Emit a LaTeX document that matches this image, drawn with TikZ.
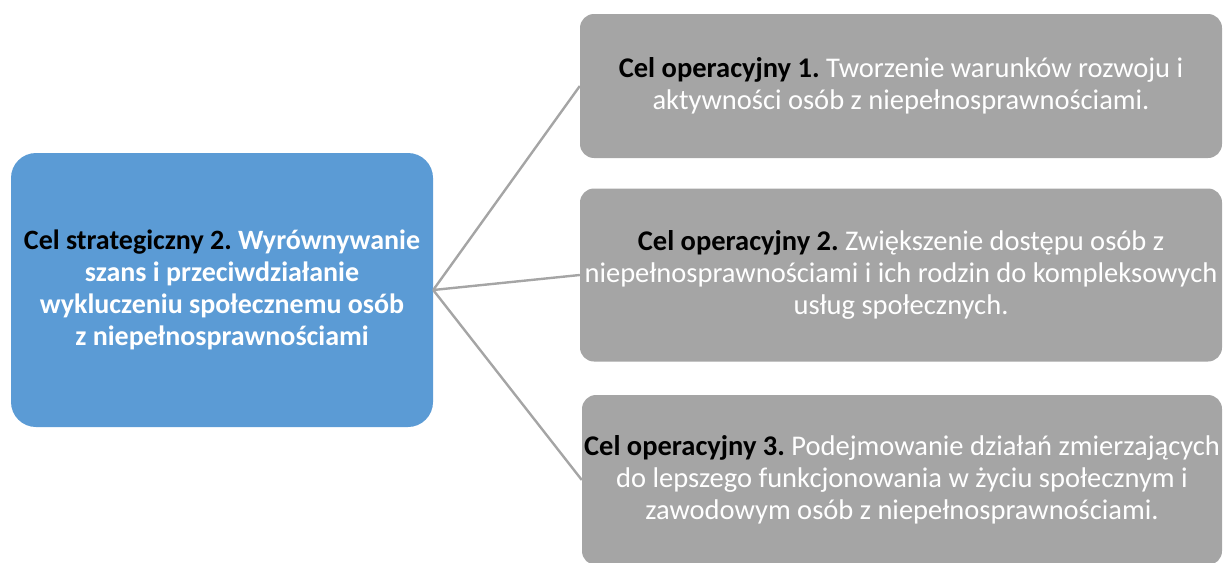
\documentclass[tikz,border=0pt]{standalone}
\usepackage{fontspec}
\setmainfont{Carlito}
\frenchspacing
\usetikzlibrary{positioning}
\definecolor{strategycolor}{RGB}{91,155,213}
\definecolor{operationcolor}{RGB}{165,165,165}
\definecolor{linkcolor}{RGB}{165,165,165}

\begin{document}
\begin{tikzpicture}[
    x=1pt, y=-1pt,
    strategy/.style={rectangle, rounded corners=25pt, fill=strategycolor, text=white, font=\fontsize{28}{32}\selectfont\bfseries, align=center, minimum width=422pt, minimum height=274pt, inner sep=0pt},
    operation/.style={rectangle, rounded corners=14pt, fill=operationcolor, text=white, font=\fontsize{28.5}{32}\selectfont, align=center, minimum width=642pt, minimum height=144pt, inner sep=0pt},
    link/.style={draw=linkcolor, line width=2.4pt}
]
\useasboundingbox (0,0) rectangle (1223,562);

% Strategic goal
\node[strategy] (strat) at (222,290) {\textcolor{black}{Cel strategiczny 2.} Wyrównywanie\\szans i przeciwdziałanie\\wykluczeniu społecznemu osób\\z niepełnosprawnościami};

% Operational goals
\node[operation] (op1) at (901,86) {\textcolor{black}{\bfseries Cel operacyjny 1.} Tworzenie warunków rozwoju i\\aktywności osób z niepełnosprawnościami.};
\node[operation, minimum height=173pt] (op2) at (901,275) {\textcolor{black}{\bfseries Cel operacyjny 2.} Zwiększenie dostępu osób z\\niepełnosprawnościami i ich rodzin do kompleksowych\\usług społecznych.};
\node[operation, minimum width=640pt, minimum height=170pt] (op3) at (902,480) {\textcolor{black}{\bfseries Cel operacyjny 3.} Podejmowanie działań zmierzających\\do lepszego funkcjonowania w życiu społecznym i\\zawodowym osób z niepełnosprawnościami.};

% Links
\draw[link] (strat.east) -- (op1.west);
\draw[link] (strat.east) -- (op2.west);
\draw[link] (strat.east) -- (op3.west);

\end{tikzpicture}
\end{document}
